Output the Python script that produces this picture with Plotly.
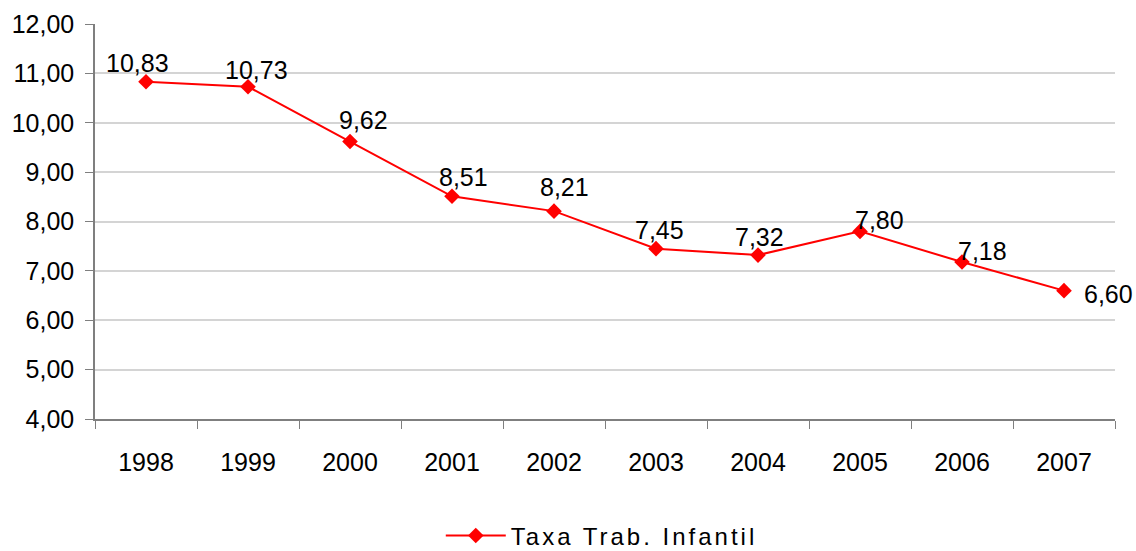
import plotly.graph_objects as go

years = ["1998", "1999", "2000", "2001", "2002", "2003", "2004", "2005", "2006", "2007"]
taxa = [10.83, 10.73, 9.62, 8.51, 8.21, 7.45, 7.32, 7.80, 7.18, 6.60]
series_name = "Taxa Trab. Infantil"

# label offsets (pixels) relative to each point
label_dx = [-9, 8, 13, 11, 10, 3, 1, 19, 20, 44]
label_dy = [19, 17, 22, 19, 24, 19, 18, 11, 11, -3]

FONT = "Liberation Sans, Arial"

fig = go.Figure()
fig.add_trace(go.Scatter(
    x=years, y=taxa, mode="lines+markers",
    name=series_name,
    line=dict(color="#ff0000", width=2),
    marker=dict(symbol="diamond", size=12, color="#ff0000"),
    cliponaxis=False,
))

for i, (v, dx, dy) in enumerate(zip(taxa, label_dx, label_dy)):
    fig.add_annotation(
        x=i, y=v, xref="x", yref="y", text=f"{v:.2f}".replace(".", ","), showarrow=False,
        xshift=dx, yshift=dy, xanchor="center", yanchor="middle",
        font=dict(family=FONT, size=25, color="#000000"),
    )

fig.update_layout(
    width=1136, height=551,
    margin=dict(l=95, r=21, t=24, b=132, autoexpand=False),
    paper_bgcolor="white", plot_bgcolor="white",
    separators=",.",
    font=dict(family=FONT, size=24, color="#000000"),
    showlegend=True,
    legend=dict(orientation="h", x=0.339, xanchor="left",
                y=-0.296, yanchor="middle", itemwidth=60,
                entrywidth=330, entrywidthmode="pixels",
                font=dict(family=FONT, size=24)),
    xaxis=dict(type="category", showgrid=False, showline=True, linecolor="#7f7f7f",
               linewidth=1.5, ticks="outside", tickson="boundaries", ticklen=8,
               tickcolor="#7f7f7f", tickfont=dict(size=25), range=[-0.5, 9.5],
               automargin=False, ticklabelstandoff=20),
    yaxis=dict(range=[4, 12], dtick=1, tickformat=".2f", showgrid=True,
               gridcolor="#d4d4d4", gridwidth=2, showline=True, linecolor="#7f7f7f",
               linewidth=1.5, ticks="outside", ticklen=8, tickcolor="#7f7f7f",
               tickfont=dict(size=25), zeroline=False, automargin=False,
               ticklabelstandoff=6),
)

post = """
document.body.style.margin = '0';
document.querySelectorAll('.legend .scrollbox, .legend').forEach(function(e){ e.removeAttribute('clip-path'); });
document.querySelectorAll('.legendtext').forEach(function(e){ e.style.letterSpacing = '3px'; });
"""

fig.write_html("out.html", post_script=post, config={"displayModeBar": False})
